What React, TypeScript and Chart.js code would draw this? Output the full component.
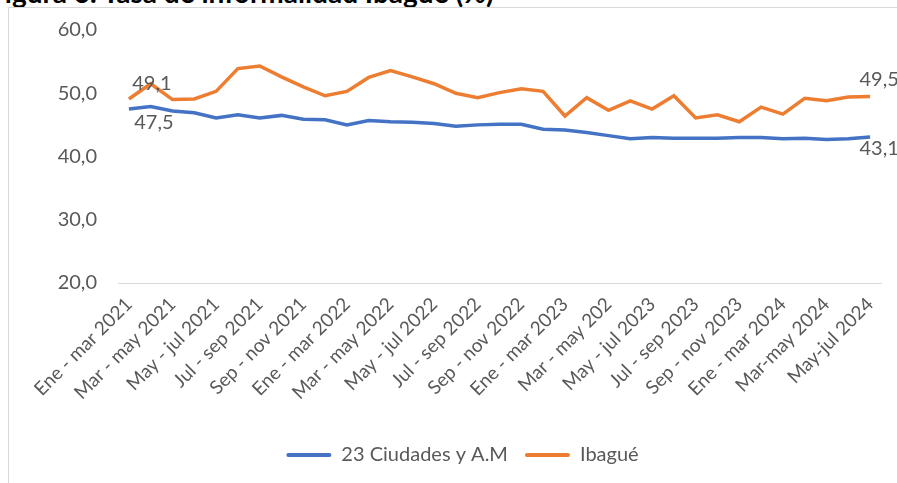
import { useEffect, useRef } from "react";
import { Chart, registerables } from "chart.js";

Chart.register(...registerables);

const categories = [
  "Ene - mar 2021", "Feb - abr 2021", "Mar - may 2021", "Abr - jun 2021", "May - jul 2021",
  "Jun - ago 2021", "Jul - sep 2021", "Ago - oct 2021", "Sep - nov 2021", "Oct - dic 2021",
  "Ene - mar 2022", "Feb - abr 2022", "Mar - may 2022", "Abr - jun 2022", "May - jul 2022",
  "Jun - ago 2022", "Jul - sep 2022", "Ago - oct 2022", "Sep - nov 2022", "Oct - dic 2022",
  "Ene - mar 2023", "Feb - abr 2023", "Mar - may 202", "Abr - jun 2023", "May - jul 2023",
  "Jun - ago 2023", "Jul - sep 2023", "Ago - oct 2023", "Sep - nov 2023", "Oct - dic 2023",
  "Ene - mar 2024", "Feb-abr 2024", "Mar-may 2024", "Abr-jun 2024", "May-jul 2024",
];

const ciudades = [
  47.5, 47.9, 47.2, 46.9, 46.1, 46.6, 46.1, 46.5, 45.9, 45.8,
  45.0, 45.7, 45.5, 45.4, 45.2, 44.8, 45.0, 45.1, 45.1, 44.3,
  44.2, 43.8, 43.3, 42.8, 43.0, 42.9, 42.9, 42.9, 43.0, 43.0,
  42.8, 42.9, 42.7, 42.8, 43.1,
];

const ibague = [
  49.1, 51.5, 49.0, 49.1, 50.3, 53.9, 54.3, 52.6, 51.0, 49.6,
  50.3, 52.5, 53.6, 52.6, 51.5, 50.0, 49.3, 50.1, 50.7, 50.3,
  46.4, 49.3, 47.3, 48.8, 47.5, 49.6, 46.1, 46.6, 45.5, 47.8,
  46.7, 49.2, 48.8, 49.4, 49.5,
];

const seriesNames = ["23 Ciudades y A.M", "Ibagué"];
const yMin = 20;
const yMax = 60;
const yStep = 10;
const titleText = "Figura 6. Tasa de informalidad Ibagué (%)";

const FONT = "Lato, 'Noto Sans', sans-serif";
const GREY = "#595959";
const BLUE = "#4472C4";
const ORANGE = "#ED7D31";

const fmt = (v: number) => v.toFixed(1).replace(".", ",");

// offsets [first dx, first dy, last dx, last dy] per dataset
const labelOffsets = [
  [25, 13, 9, 12],
  [23, -15, 9, -17],
];

const endLabels = {
  id: "endLabels",
  afterDatasetsDraw(chart: any) {
    const ctx = chart.ctx;
    ctx.save();
    ctx.font = `20px ${FONT}`;
    ctx.fillStyle = GREY;
    ctx.textAlign = "center";
    ctx.textBaseline = "middle";
    chart.data.datasets.forEach((ds: any, di: number) => {
      const meta = chart.getDatasetMeta(di);
      const pts = meta.data;
      const o = labelOffsets[di];
      const first = pts[0];
      const last = pts[pts.length - 1];
      ctx.fillText(fmt(ds.data[0]), first.x + o[0], first.y + o[1]);
      ctx.fillText(fmt(ds.data[ds.data.length - 1]), last.x + o[2], last.y + o[3]);
    });
    ctx.restore();
  },
};

export default function App() {
  const ref = useRef<HTMLCanvasElement | null>(null);

  useEffect(() => {
    if (!ref.current) return;
    const chart = new Chart(ref.current, {
      type: "line",
      data: {
        labels: categories,
        datasets: [
          {
            label: seriesNames[0],
            data: ciudades,
            borderColor: BLUE,
            backgroundColor: BLUE,
            borderWidth: 3.5,
            pointRadius: 0,
            tension: 0,
          },
          {
            label: seriesNames[1],
            data: ibague,
            borderColor: ORANGE,
            backgroundColor: ORANGE,
            borderWidth: 3.5,
            pointRadius: 0,
            tension: 0,
          },
        ],
      },
      options: {
        animation: false,
        responsive: false,
        devicePixelRatio: 1,
        layout: { padding: { left: 44, right: 16, top: 30, bottom: 8 } },
        plugins: {
          tooltip: { enabled: false },
          legend: {
            position: "bottom",
            labels: {
              font: { family: FONT, size: 20 },
              color: GREY,
              boxWidth: 45,
              boxHeight: 4,
              padding: 17,
              generateLabels: (c: any) =>
                c.data.datasets.map((ds: any, i: number) => ({
                  text: ds.label,
                  fillStyle: ds.borderColor,
                  strokeStyle: ds.borderColor,
                  lineWidth: 0,
                  fontColor: GREY,
                  hidden: false,
                  datasetIndex: i,
                  borderRadius: 2,
                })),
            },
          },
        },
        scales: {
          x: {
            offset: true,
            grid: { display: false },
            border: { display: true, color: "#d9d9d9", width: 1 },
            ticks: {
              autoSkip: false,
              maxRotation: 45,
              minRotation: 45,
              padding: 2,
              color: GREY,
              font: { family: FONT, size: 19 },
              callback: (_v: any, i: number) => (i % 2 === 0 ? categories[i] : ""),
            },
            afterFit: (s: any) => {
              s.height = 145;
            },
          },
          y: {
            min: yMin,
            max: yMax,
            grid: { display: false },
            border: { display: false },
            ticks: {
              stepSize: yStep,
              padding: 13,
              color: GREY,
              font: { family: FONT, size: 20 },
              callback: (v: any) => fmt(Number(v)),
            },
            afterFit: (s: any) => {
              s.width = 74;
            },
          },
        },
      },
      plugins: [endLabels],
    });
    return () => chart.destroy();
  }, []);

  return (
    <div
      style={{
        position: "fixed",
        left: 0,
        top: 0,
        width: 897,
        height: 483,
        overflow: "hidden",
        background: "#fff",
      }}
    >
      <div
        style={{
          position: "absolute",
          left: -11,
          top: -22,
          fontFamily: FONT,
          fontWeight: 700,
          fontSize: 28,
          lineHeight: "28px",
          color: "#000",
          whiteSpace: "nowrap",
        }}
      >
        {titleText}
      </div>
      <div
        style={{
          position: "absolute",
          left: 8,
          top: 7,
          width: 1000,
          height: 1000,
          borderLeft: "1px solid #d9d9d9",
          borderTop: "1px solid #d9d9d9",
        }}
      />
      <canvas
        ref={ref}
        width={897}
        height={483}
        style={{ position: "absolute", left: 0, top: 0, width: 897, height: 483 }}
      />
    </div>
  );
}
